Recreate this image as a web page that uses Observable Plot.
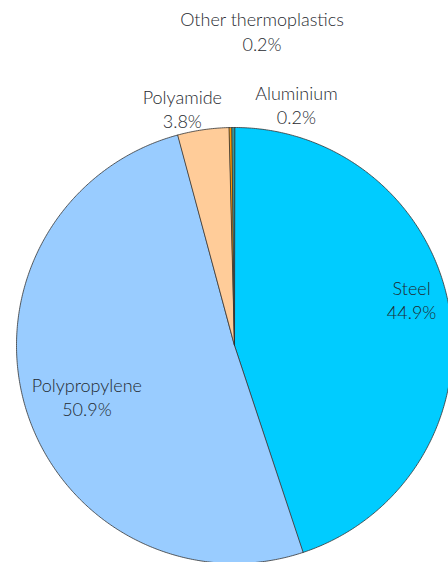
<!DOCTYPE html>
<html>
<head>
<meta charset="utf-8">
<script src="https://cdn.jsdelivr.net/npm/d3@7"></script>
<script src="https://cdn.jsdelivr.net/npm/@observablehq/plot@0.6"></script>
<style>
  html, body { margin: 0; padding: 0; background: #fff; overflow: hidden; }
</style>
</head>
<body>
<div id="chart"></div>
<script>
const categories = ["Steel", "Polypropylene", "Polyamide", "Other thermoplastics", "Aluminium"];
const shares = [44.9, 50.9, 3.8, 0.2, 0.2];
const colors = ["#00ccff", "#99ccff", "#ffcc99", "#ff9900", "#339999"];

const W = 448, H = 562;
const cx = 234, cy = 345, R = 218;

// label layout: polar position (degrees clockwise from top, pixel radius)
const labelLayout = {
  "Steel": [75.4, 183],
  "Polypropylene": [251.1, 156],
  "Polyamide": [347.6, 243],
  "Other thermoplastics": [5.0, 316],
  "Aluminium": [14.4, 249]
};

const data = categories.map((c, i) => ({category: c, value: shares[i]}));
const arcs = d3.pie().sort(null).value(d => d.value)(data);

const features = arcs.map(a => {
  const ring = [[cx, cy]];
  const n = Math.max(2, Math.ceil((a.endAngle - a.startAngle) / (Math.PI / 360)));
  for (let k = 0; k <= n; k++) {
    const t = a.startAngle + (a.endAngle - a.startAngle) * k / n;
    ring.push([cx + R * Math.sin(t), cy - R * Math.cos(t)]);
  }
  ring.push([cx, cy]);
  return {type: "Feature", properties: {category: a.data.category}, geometry: {type: "Polygon", coordinates: [ring]}};
});

const labels = data.map(d => {
  const [deg, r] = labelLayout[d.category];
  const t = deg * Math.PI / 180;
  return {x: cx + r * Math.sin(t), y: cy - r * Math.cos(t), text: `${d.category}\n${d.value}%`};
});

const chart = Plot.plot({
  width: W,
  height: H,
  margin: 0,
  projection: d3.geoIdentity(),
  color: {domain: categories, range: colors},
  style: {fontFamily: "Lato, sans-serif", background: "#fff"},
  marks: [
    Plot.geo(features, {fill: d => d.properties.category, stroke: "#333", strokeWidth: 0.8}),
    Plot.text(labels, {x: "x", y: "y", text: "text", fontSize: 18, fontWeight: 300, lineHeight: 1.35, fill: "#1f2a30", textAnchor: "middle", lineAnchor: "middle"})
  ]
});
document.getElementById("chart").appendChild(chart);
</script>
</body>
</html>
